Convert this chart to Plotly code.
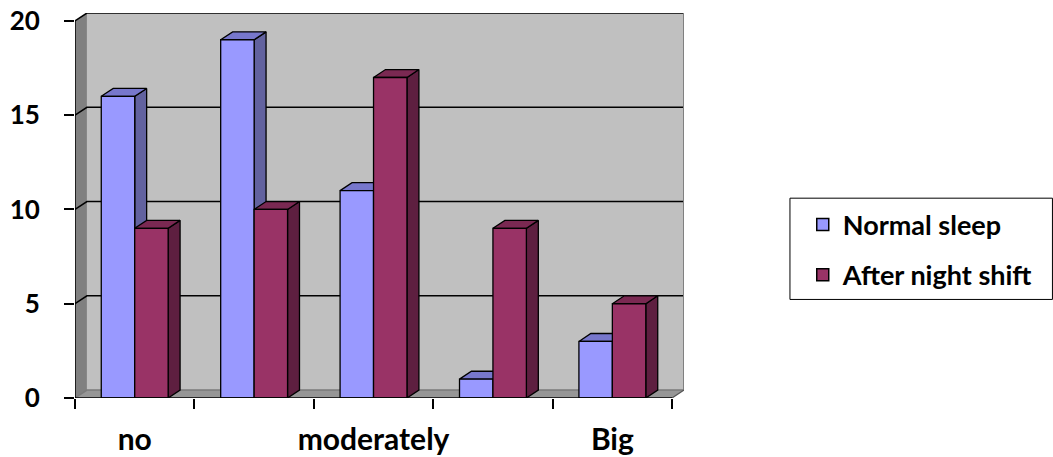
import plotly.graph_objects as go

# Survey answers (category tick labels; blank ones are not printed on the axis)
categories = ["no", "", "moderately", "", "Big"]
normal_sleep = [16, 19, 11, 1, 3]
after_night_shift = [9, 10, 17, 9, 5]
y_ticks = [0, 5, 10, 15, 20]

SERIES = [
    ("Normal sleep", normal_sleep, "#9999FF", "#7777CC", "#62629F"),
    ("After night shift", after_night_shift, "#993366", "#7A2952", "#5E1F40"),
]

# pseudo-3D geometry in data units
BAR_W = 0.28          # width of one bar
DX, DY = 0.10, 0.42   # depth offset of the box
X_LO, X_HI = -0.5, len(categories) - 0.5
Y_TOP = max(y_ticks)
EDGE = dict(color="black", width=1.3)
FONT = "Lato"

fig = go.Figure()

# legend entries (square swatches)
for name, _, front, _, _ in SERIES:
    fig.add_trace(go.Bar(x=[None], y=[None], name=name, xaxis="x2",
                         marker=dict(color=front, line=dict(color="black", width=1.5)),
                         legendgroup=name))


def faces(values, start):
    fx, fy, tx, ty, sx, sy = [], [], [], [], [], []
    for i, v in enumerate(values):
        x0 = i + start
        x1 = x0 + BAR_W
        fx += [x0, x1, x1, x0, x0, None]
        fy += [0, 0, v, v, 0, None]
        tx += [x0, x1, x1 + DX, x0 + DX, x0, None]
        ty += [v, v, v + DY, v + DY, v, None]
        sx += [x1, x1 + DX, x1 + DX, x1, x1, None]
        sy += [0, DY, v + DY, v, 0, None]
    return (fx, fy), (tx, ty), (sx, sy)


for k, (name, vals, c_front, c_top, c_side) in enumerate(SERIES):
    start = -BAR_W if k == 0 else 0.0
    (fx, fy), (tx, ty), (sx, sy) = faces(vals, start)
    for xs, ys, col in ((sx, sy, c_side), (tx, ty, c_top), (fx, fy, c_front)):
        fig.add_trace(go.Scatter(x=xs, y=ys, mode="lines", fill="toself",
                                 fillcolor=col, line=EDGE, showlegend=False,
                                 hoverinfo="skip"))

shapes = []
# back wall, side wall and floor of the box
shapes.append(dict(type="rect", x0=X_LO + DX, x1=X_HI + DX, y0=DY, y1=Y_TOP + DY,
                   fillcolor="#C0C0C0", line=dict(width=0), layer="below"))
shapes.append(dict(type="path",
                   path=f"M{X_LO},0 L{X_LO},{Y_TOP} L{X_LO + DX},{Y_TOP + DY} L{X_LO + DX},{DY} Z",
                   fillcolor="#808080", line=dict(width=0), layer="below"))
shapes.append(dict(type="path",
                   path=f"M{X_LO},0 L{X_HI},0 L{X_HI + DX},{DY} L{X_LO + DX},{DY} Z",
                   fillcolor="#969696", line=dict(width=0), layer="below"))
# gridlines running across the side wall and back wall
for v in y_ticks:
    col = "#7A7A7A" if v == 0 else "black"
    shapes.append(dict(type="path",
                       path=f"M{X_LO},{v} L{X_LO + DX},{v + DY} L{X_HI + DX},{v + DY}",
                       line=dict(color=col, width=1.5), layer="below"))
# right edge of back wall and floor
shapes.append(dict(type="line", x0=X_HI + DX, x1=X_HI + DX, y0=DY, y1=Y_TOP + DY,
                   line=dict(color="#808080", width=2), layer="below"))
shapes.append(dict(type="line", x0=X_HI, x1=X_HI + DX, y0=0, y1=DY,
                   line=dict(color="#555555", width=1.2), layer="below"))
# front axis lines
shapes.append(dict(type="line", x0=X_LO, x1=X_LO, y0=0, y1=Y_TOP,
                   line=dict(color="black", width=1.5), layer="above"))
shapes.append(dict(type="line", x0=X_LO, x1=X_HI, y0=0, y1=0,
                   line=dict(color="black", width=1.5), layer="above"))
# legend frame
shapes.append(dict(type="rect", xref="paper", yref="paper",
                   x0=1.174, x1=1.605, y0=0.256, y1=0.519,
                   line=dict(color="black", width=1), fillcolor="white", layer="below"))

x_range = [X_LO, X_HI + DX]
fig.update_layout(
    width=1053, height=457,
    margin=dict(l=75, r=369, t=13, b=59, autoexpand=False),
    paper_bgcolor="white", plot_bgcolor="white",
    font=dict(family=FONT, color="black", weight="bold"),
    shapes=shapes,
    barmode="group",
    showlegend=True,
    legend=dict(x=1.195, y=0.513, xanchor="left", yanchor="top",
                bgcolor="rgba(0,0,0,0)", borderwidth=0,
                font=dict(size=27, family=FONT, weight="bold"),
                tracegroupgap=12),
    xaxis=dict(range=x_range, tickvals=[X_LO + i for i in range(len(categories) + 1)],
               showticklabels=False, ticks="outside", ticklen=10, tickwidth=1.5,
               tickcolor="black", showgrid=False, zeroline=False, showline=False,
               automargin=False),
    xaxis2=dict(range=x_range, overlaying="x", anchor="y", side="bottom",
                tickvals=list(range(len(categories))), ticktext=categories,
                ticks="", showgrid=False, zeroline=False, showline=False,
                tickfont=dict(size=30, family=FONT, weight="bold"),
                ticklabelstandoff=21, automargin=False),
    yaxis=dict(range=[0, Y_TOP + DY], tickvals=y_ticks, ticks="outside", ticklen=10,
               tickwidth=1.5, tickcolor="black", showgrid=False, zeroline=False,
               showline=False, tickfont=dict(size=26, family=FONT, weight="bold"),
               ticklabelstandoff=19, automargin=False),
)

fig.write_html("out.html")
